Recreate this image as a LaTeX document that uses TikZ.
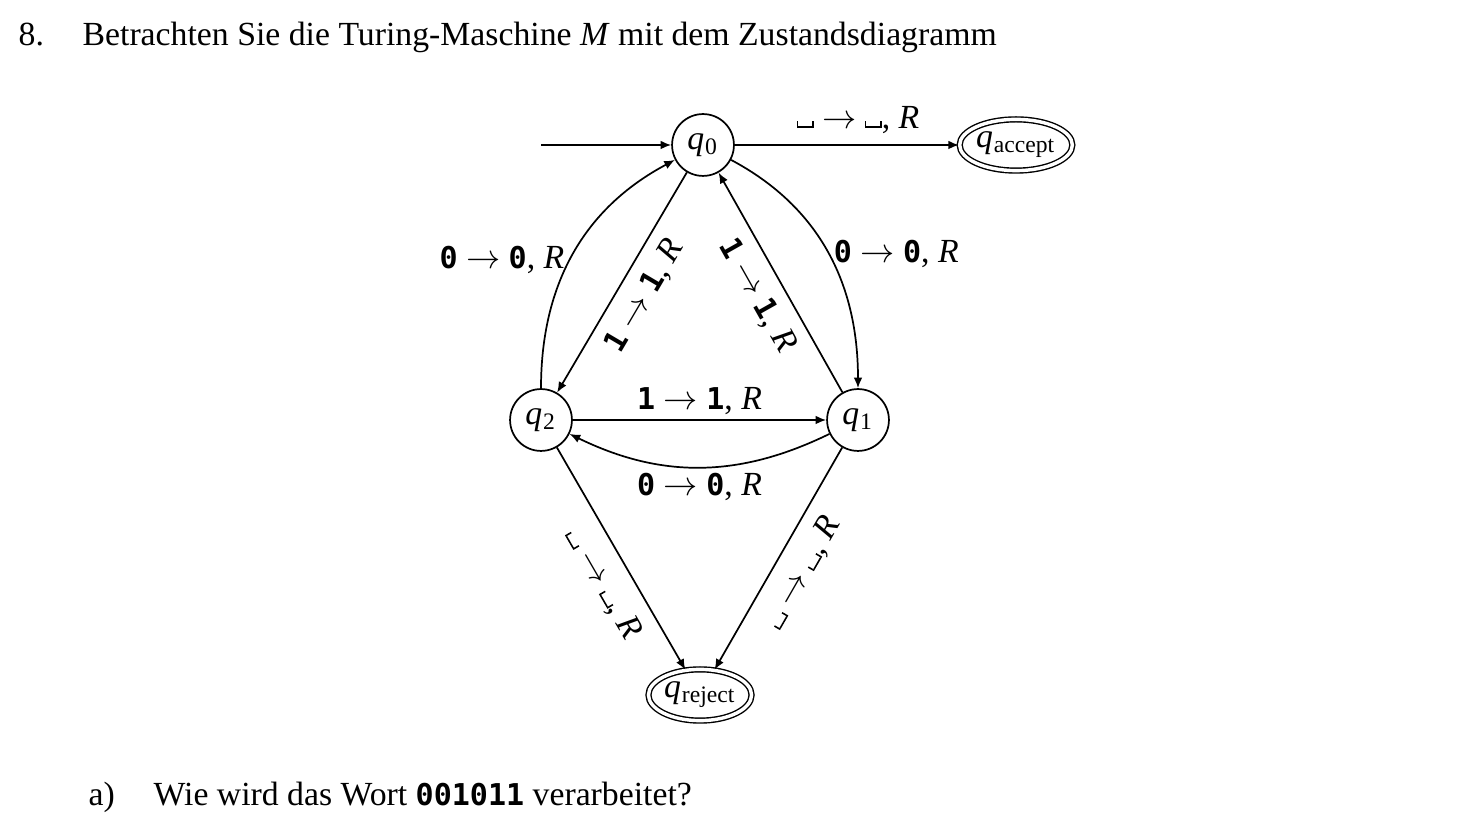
\documentclass[tikz,border=0pt]{standalone}
\usepackage{fontspec}
\setmainfont{Liberation Serif}
\setmonofont[Scale=0.89]{DejaVu Sans Mono}
\usetikzlibrary{arrows.meta,positioning,shapes.geometric}
\newcommand{\sym}[1]{\texttt{\bfseries #1}}
\newcommand{\blanksym}{\rule{0.5pt}{2.2pt}\rule{4.4pt}{0.5pt}\rule{0.5pt}{2.2pt}}
\newcommand{\trans}[2]{#1 $\rightarrow$ #2, \textit{R}}
\newcommand{\qst}[1]{\textit{q}\kern0.3pt\textsubscript{#1}}

\begin{document}
\begin{tikzpicture}[x=0.32pt, y=-0.32pt, font=\fontsize{10.8}{13}\selectfont,
        state/.style={circle,draw,line width=0.55pt,minimum size=19.8pt,inner sep=0pt},
        final/.style={ellipse,draw,line width=0.45pt,double,double distance=1.1pt,
          minimum width=33pt,minimum height=16.4pt,inner sep=0pt},
        arrow/.style={-{Latex[length=3.4pt,width=2.8pt]},line width=0.55pt},
        lbl/.style={inner sep=1.5pt},
        txt/.style={anchor=base west,inner sep=0pt}]
        \useasboundingbox (0,0) rectangle (1464,838);
        % heading and question
        \node[txt] (num) at (18,46) {8.};
        \node[txt] (head) at (82,46) {Betrachten Sie die Turing-Maschine \textit{M} mit dem Zustandsdiagramm};
        \node[txt] (suba) at (88,806) {a)};
        \node[txt] (ask) at (153,806) {Wie wird das Wort \sym{001011} verarbeitet?};
        % states
        \node[state] (q0) at (703,145) {\qst{0}};
        \node[state] (q1) at (858,420) {\qst{1}};
        \node[state] (q2) at (541,420) {\qst{2}};
        \node[final] (qa) at (1016,145) {\qst{accept}};
        \node[final] (qr) at (700,695) {\qst{reject}};
        \coordinate (start) at (541,145);
        % transitions
        \draw[arrow] (start) -- (q0);
        \draw[arrow] (q0) -- node[lbl,above=2pt,pos=0.55]{\trans{\blanksym}{\blanksym}} (qa);
        \draw[arrow] (q0) to[out=-28,in=90] node[lbl,right,pos=0.5]{\trans{\sym{0}}{\sym{0}}} (q1);
        \draw[arrow] (q2) to[out=90,in=208] node[lbl,left,pos=0.47]{\trans{\sym{0}}{\sym{0}}} (q0);
        \draw[arrow] (q1) -- node[lbl,sloped,below=2.5pt]{\trans{\sym{1}}{\sym{1}}} (q0);
        \draw[arrow] (q0) -- node[lbl,sloped,below=2.5pt]{\trans{\sym{1}}{\sym{1}}} (q2);
        \draw[arrow] (q2) -- node[lbl,above]{\trans{\sym{1}}{\sym{1}}} (q1);
        \draw[arrow] (q1) to[bend left=26] node[lbl,below]{\trans{\sym{0}}{\sym{0}}} (q2);
        \draw[arrow] (q2) -- node[lbl,sloped,below=3pt,pos=0.55]{\trans{\blanksym}{\blanksym}} (qr);
        \draw[arrow] (q1) -- node[lbl,sloped,below=3pt]{\trans{\blanksym}{\blanksym}} (qr);
      \end{tikzpicture}
\end{document}
